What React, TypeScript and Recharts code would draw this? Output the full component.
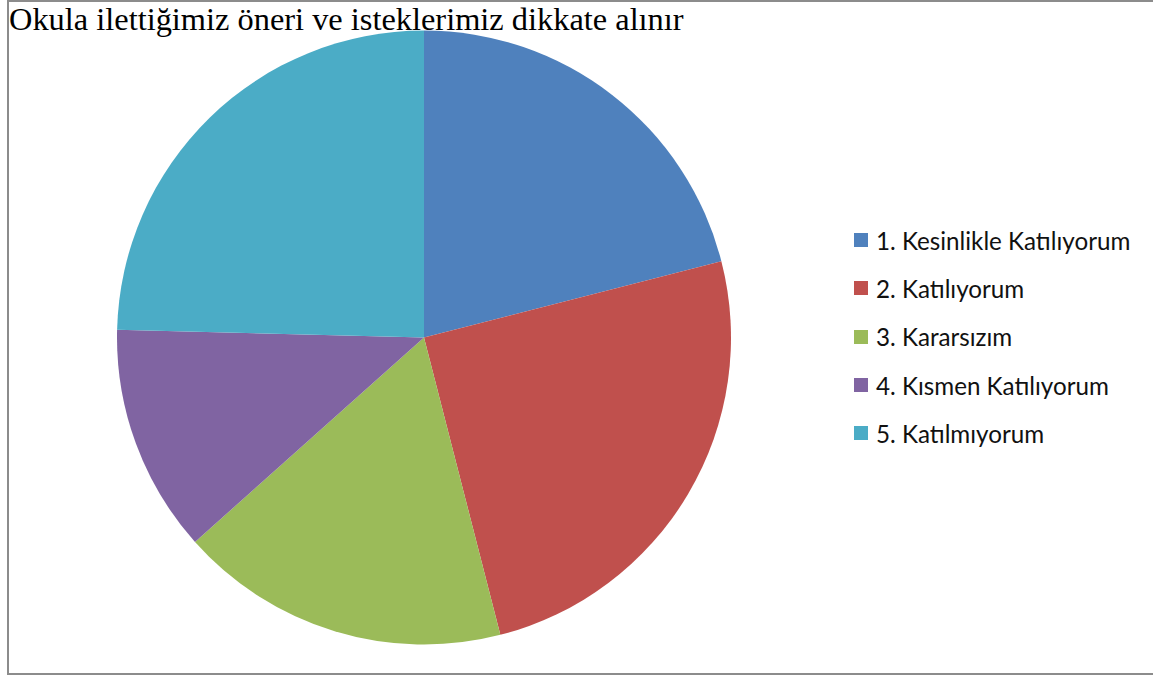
import React from 'react'
import { PieChart, Pie, Cell, Legend } from 'recharts'

const labels = [
  '1. Kesinlikle Katılıyorum',
  '2. Katılıyorum',
  '3. Kararsızım',
  '4. Kısmen Katılıyorum',
  '5. Katılmıyorum',
]
const values = [21, 25, 17.4, 12, 24.6]
const colors = ['#4f81bd', '#c0504d', '#9bbb59', '#8064a2', '#4bacc6']

const data = labels.map((name, i) => ({ name, value: values[i] }))

function LegendList() {
  return (
    <div style={{ fontFamily: 'Lato, sans-serif', fontSize: 24.2, color: '#111' }}>
      {labels.map((l, i) => (
        <div key={l} style={{ display: 'flex', alignItems: 'center', height: 48.3 }}>
          <span style={{ width: 14, height: 14, background: colors[i], marginRight: 8, display: 'inline-block', flexShrink: 0 }} />
          <span style={{ whiteSpace: 'nowrap' }}>{l}</span>
        </div>
      ))}
    </div>
  )
}

export default function App() {
  return (
    <div style={{ position: 'absolute', left: 0, top: 0, width: 1153, height: 675, background: '#fff', overflow: 'hidden' }}>
      <div
        style={{
          position: 'absolute',
          left: 7,
          top: 0,
          width: 1160,
          height: 675,
          boxSizing: 'border-box',
          border: '2px solid #8c8c8c',
        }}
      />
      <PieChart
        width={1153}
        height={675}
        margin={{ top: 0, right: 0, bottom: 0, left: 0 }}
        style={{ position: 'absolute', left: 0, top: 0 }}
      >
        <Pie
          data={data}
          dataKey="value"
          nameKey="name"
          cx={424}
          cy={337.5}
          outerRadius={307}
          startAngle={90}
          endAngle={-270}
          stroke="none"
          isAnimationActive={false}
        >
          {data.map((d, i) => (
            <Cell key={d.name} fill={colors[i]} />
          ))}
        </Pie>
        <Legend
          layout="vertical"
          content={<LegendList />}
          wrapperStyle={{ position: 'absolute', left: 854, top: 216, width: 300 }}
        />
      </PieChart>
      <div
        style={{
          position: 'absolute',
          left: 9,
          top: 0,
          fontFamily: '"Liberation Serif", serif',
          fontSize: 32.4,
          lineHeight: '38px',
          color: '#000',
          whiteSpace: 'nowrap',
        }}
      >
        Okula ilettiğimiz öneri ve isteklerimiz dikkate alınır
      </div>
    </div>
  )
}
